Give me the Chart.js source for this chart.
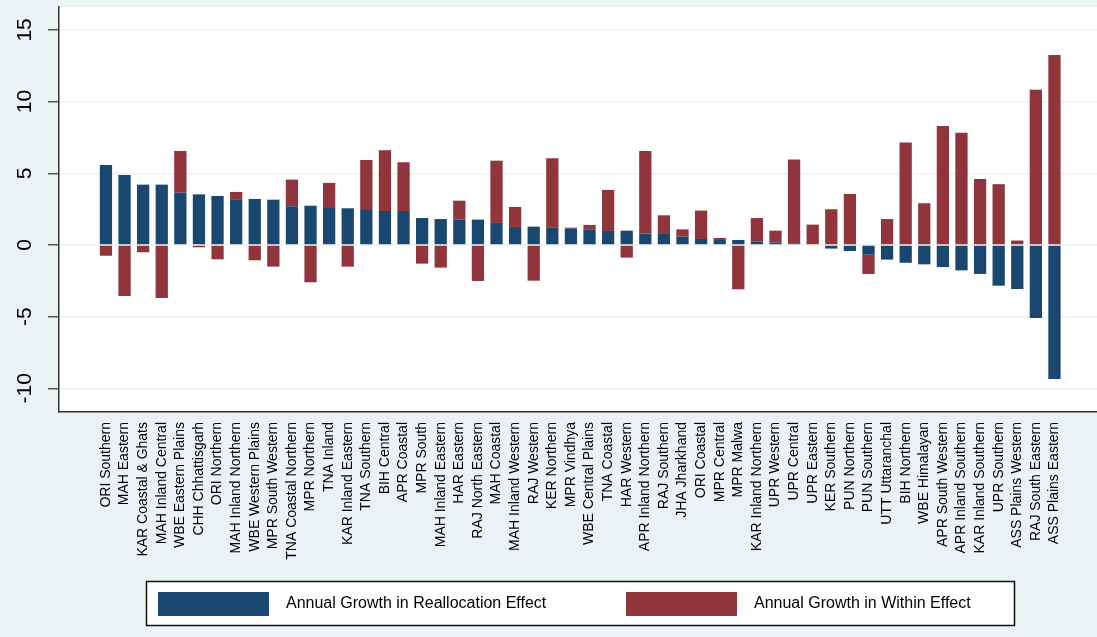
<!DOCTYPE html>
<html>
<head>
<meta charset="utf-8">
<script src="https://cdn.jsdelivr.net/npm/chart.js@4.4.1/dist/chart.umd.min.js"></script>
<style>
  html, body { margin: 0; padding: 0; background: #eaf2f3; }
  #wrap { width: 1097px; height: 637px; position: relative; }
</style>
</head>
<body>
<div id="wrap"><canvas id="grafica"></canvas></div>
<script>
// Regiones (ordenadas por efecto de reasignación)
const regiones = [
    'ORI Southern', 'MAH Eastern', 'KAR Coastal & Ghats', 'MAH Inland Central', 'WBE Eastern Plains',
    'CHH Chhattisgarh', 'ORI Northern', 'MAH Inland Northern', 'WBE Western Plains', 'MPR South Western',
    'TNA Coastal Northern', 'MPR Northern', 'TNA Inland', 'KAR Inland Eastern', 'TNA Southern',
    'BIH Central', 'APR Coastal', 'MPR South', 'MAH Inland Eastern', 'HAR Eastern',
    'RAJ North Eastern', 'MAH Coastal', 'MAH Inland Western', 'RAJ Western', 'KER Northern',
    'MPR Vindhya', 'WBE Central Plains', 'TNA Coastal', 'HAR Western', 'APR Inland Northern',
    'RAJ Southern', 'JHA Jharkhand', 'ORI Coastal', 'MPR Central', 'MPR Malwa',
    'KAR Inland Northern', 'UPR Western', 'UPR Central', 'UPR Eastern', 'KER Southern',
    'PUN Northern', 'PUN Southern', 'UTT Uttaranchal', 'BIH Northern', 'WBE Himalayan',
    'APR South Western', 'APR Inland Southern', 'KAR Inland Southern', 'UPR Southern', 'ASS Plains Western',
    'RAJ South Eastern', 'ASS Plains Eastern'
];

// Crecimiento anual del efecto de reasignación
const reasignacion = [
    5.58, 4.88, 4.21, 4.21, 3.65, 3.53, 3.42, 3.19, 3.21, 3.16,
    2.70, 2.74, 2.58, 2.56, 2.44, 2.37, 2.37, 1.88, 1.81, 1.77,
    1.77, 1.54, 1.26, 1.28, 1.21, 1.14, 1.09, 0.98, 1.00, 0.81,
    0.77, 0.58, 0.42, 0.35, 0.35, 0.25, 0.17, 0.11, -0.05, -0.25,
    -0.42, -0.68, -1.02, -1.24, -1.35, -1.54, -1.77, -2.02, -2.84, -3.07,
    -5.09, -9.35
];

// Crecimiento anual del efecto interno
const interno = [
    -0.75, -3.56, -0.51, -3.70, 2.91, -0.16, -1.00, 0.51, -1.07, -1.51,
    1.86, -2.60, 1.75, -1.51, 3.49, 4.24, 3.40, -1.30, -1.58, 1.32,
    -2.51, 4.34, 1.39, -2.49, 4.84, 0.07, 0.31, 2.86, -0.88, 5.75,
    1.30, 0.51, 1.98, 0.14, -3.09, 1.63, 0.83, 5.85, 1.42, 2.49,
    3.56, -1.34, 1.81, 7.14, 2.91, 8.30, 7.82, 4.61, 4.24, 0.31,
    10.82, 13.26
];

const ticksY = [-10, -5, 0, 5, 10, 15];

const azul = '#1a476f';
const granate = '#90353b';
const fondo = '#eaf2f3';
const fuente = "'Liberation Sans', Arial, Helvetica, sans-serif";

// Área del gráfico en blanco
const fondoPlot = {
    id: 'fondoPlot',
    beforeDraw(chart) {
        const { ctx, chartArea: a } = chart;
        ctx.save();
        ctx.fillStyle = '#ffffff';
        ctx.fillRect(a.left, a.top, a.right - a.left, a.bottom - a.top);
        ctx.restore();
    }
};

// Leyenda con marco, al estilo Stata
const leyenda = {
    id: 'leyenda',
    afterDraw(chart) {
        const ctx = chart.ctx;
        const ds = chart.data.datasets;
        ctx.save();
        ctx.fillStyle = '#ffffff';
        ctx.fillRect(146, 581, 869, 45);
        ctx.strokeStyle = '#111';
        ctx.lineWidth = 1.5;
        ctx.strokeRect(146.5, 581.5, 868, 44);

        const cajas = [158, 626];
        ctx.font = '16px ' + fuente;
        ctx.textBaseline = 'middle';
        ds.forEach((d, i) => {
            const x = cajas[i];
            ctx.fillStyle = d.backgroundColor;
            ctx.fillRect(x, 592, 111, 24);
            ctx.fillStyle = '#000';
            ctx.fillText(d.label, x + 128, 604);
        });
        ctx.restore();
    }
};

const ctx = document.getElementById('grafica').getContext('2d');
new Chart(ctx, {
    type: 'bar',
    data: {
        datasets: [
            {
                label: 'Annual Growth in Reallocation Effect',
                data: reasignacion.map((v, i) => ({ x: i, y: v })),
                backgroundColor: azul,
                borderWidth: 0
            },
            {
                label: 'Annual Growth in Within Effect',
                data: interno.map((v, i) => ({ x: i, y: v })),
                backgroundColor: granate,
                borderWidth: 0
            }
        ]
    },
    options: {
        responsive: true,
        maintainAspectRatio: false,
        animation: false,
        barPercentage: 0.66,
        categoryPercentage: 1,
        layout: { padding: { top: 7, left: 0, right: 0, bottom: 55 } },
        plugins: {
            legend: { display: false },
            tooltip: { enabled: false },
            title: { display: false }
        },
        scales: {
            x: {
                type: 'linear',
                stacked: true,
                min: -1.988,
                max: 52.75,
                afterBuildTicks: (axis) => {
                    axis.ticks = regiones.map((_, i) => ({ value: i }));
                },
                afterFit: (axis) => {
                    axis.height = 170;
                    axis.paddingLeft = 0;
                    axis.paddingRight = 0;
                },
                grid: { display: false, drawTicks: false },
                border: { display: true, color: '#333', width: 1.5 },
                ticks: {
                    autoSkip: false,
                    minRotation: 90,
                    maxRotation: 90,
                    padding: 10,
                    color: '#000',
                    font: { family: fuente, size: 14 },
                    callback: (value) => regiones[value]
                }
            },
            y: {
                stacked: true,
                min: -11.65,
                max: 16.6,
                afterBuildTicks: (axis) => {
                    axis.ticks = ticksY.map(v => ({ value: v }));
                },
                afterFit: (axis) => {
                    axis.width = 59;
                    axis.paddingTop = 0;
                    axis.paddingBottom = 0;
                },
                grid: {
                    color: fondo,
                    lineWidth: 1.5,
                    drawTicks: true,
                    tickLength: 11,
                    tickColor: '#333',
                    tickWidth: 1.2
                },
                border: { display: true, color: '#333', width: 1.5 },
                ticks: {
                    minRotation: 90,
                    maxRotation: 90,
                    crossAlign: 'center',
                    padding: 8,
                    color: '#000',
                    font: { family: fuente, size: 21 }
                }
            }
        }
    },
    plugins: [fondoPlot, leyenda]
});
</script>
</body>
</html>
